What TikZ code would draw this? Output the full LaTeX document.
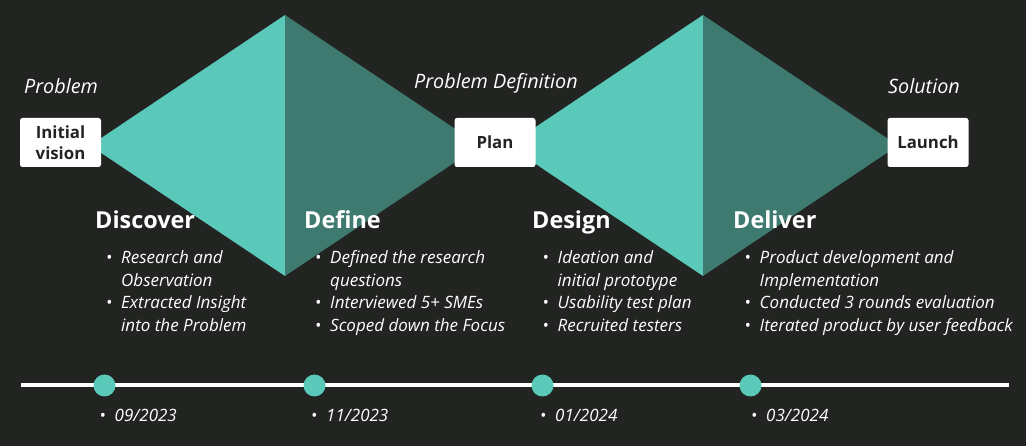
\documentclass[tikz,border=0pt]{standalone}
\usepackage{fontspec}
\setmainfont{Open Sans}
\definecolor{bg}{HTML}{222421}
\definecolor{tealL}{HTML}{5BC9B9}
\definecolor{tealD}{HTML}{3E7A6F}
\tikzset{
  stagebox/.style={fill=white, rounded corners=2.5pt, minimum width=81pt, minimum height=49pt,
    inner sep=0pt, align=center, text=bg, font=\bfseries\fontsize{16.8}{21.5}\selectfont},
  phase/.style={anchor=base west, inner sep=0pt, text=white, font=\bfseries\fontsize{23.4}{28}\selectfont},
  item/.style={anchor=base west, inner sep=0pt, text=white, font=\itshape\fontsize{17}{22}\selectfont},
  caption/.style={anchor=base west, inner sep=0pt, text=white, font=\itshape\fontsize{19.8}{22}\selectfont},
  dot/.style={circle, fill=tealL, minimum size=22pt, inner sep=0pt},
  datelbl/.style={anchor=base west, inner sep=0pt, text=white, font=\itshape\fontsize{17}{20}\selectfont},
}
\newcommand{\bul}{\llap{\textbullet\hspace{9pt}}}
\begin{document}
\begin{tikzpicture}[x=1pt,y=-1pt]
\useasboundingbox (0,0) rectangle (1026,446);
\fill[bg] (0,0) rectangle (1026,446);
% diamonds
\fill[tealL] (90,145.5) -- (285,15) -- (285,276) -- cycle;
\fill[tealD] (285,15) -- (480,145.5) -- (285,276) -- cycle;
\fill[tealL] (508,145.5) -- (703,15) -- (703,276) -- cycle;
\fill[tealD] (703,15) -- (898,145.5) -- (703,276) -- cycle;
% boxes
\node[stagebox] (init) at (60.5,142.5) {Initial\\vision};
\node[stagebox] (plan) at (495,142.5) {Plan};
\node[stagebox] (launch) at (928,142.5) {Launch};
% captions
\node[caption] (cprob) at (24,93.3) {Problem};
\node[caption] (cdef) at (414,88.3) {Problem Definition};
\node[caption] (csol) at (888,93.3) {Solution};
% phases
\node[phase] (discover) at (95,228.5) {Discover};
\node[phase] (define) at (304,228.5) {Define};
\node[phase] (design) at (532,228.5) {Design};
\node[phase] (deliver) at (733,228.5) {Deliver};
% Discover items
\node[item] (d1) at (121,264) {\bul Research and};
\node[item] (d2) at (121,286.5) {Observation};
\node[item] (d3) at (121,309) {\bul Extracted Insight};
\node[item] (d4) at (121,331.5) {into the Problem};
% Define items
\node[item] (f1) at (330,264) {\bul Defined the research};
\node[item] (f2) at (330,286.5) {questions};
\node[item] (f3) at (330,309) {\bul Interviewed 5+ SMEs};
\node[item] (f4) at (330,331.5) {\bul Scoped down the Focus};
% Design items
\node[item] (g1) at (557.5,264) {\bul Ideation and};
\node[item] (g2) at (557.5,286.5) {initial prototype};
\node[item] (g3) at (557.5,309) {\bul Usability test plan};
\node[item] (g4) at (557.5,331.5) {\bul Recruited testers};
% Deliver items
\node[item] (v1) at (759.5,264) {\bul Product development and};
\node[item] (v2) at (759.5,286.5) {Implementation};
\node[item] (v3) at (759.5,309) {\bul Conducted 3 rounds evaluation};
\node[item] (v4) at (759.5,331.5) {\bul Iterated product by user feedback};
% timeline
\coordinate (tl0) at (21,385.5);
\coordinate (tl1) at (1009,385.5);
\draw[white, line width=4pt] (tl0) -- (tl1);
\node[dot] (t1) at (104.5,385.5) {};
\node[dot] (t2) at (314.5,385.5) {};
\node[dot] (t3) at (542.5,385.5) {};
\node[dot] (t4) at (750.5,385.5) {};
\node[datelbl] (dt1) at (114.5,421.5) {\bul 09/2023};
\node[datelbl] (dt2) at (326,421.5) {\bul 11/2023};
\node[datelbl] (dt3) at (555,421.5) {\bul 01/2024};
\node[datelbl] (dt4) at (766,421.5) {\bul 03/2024};
\end{tikzpicture}
\end{document}
